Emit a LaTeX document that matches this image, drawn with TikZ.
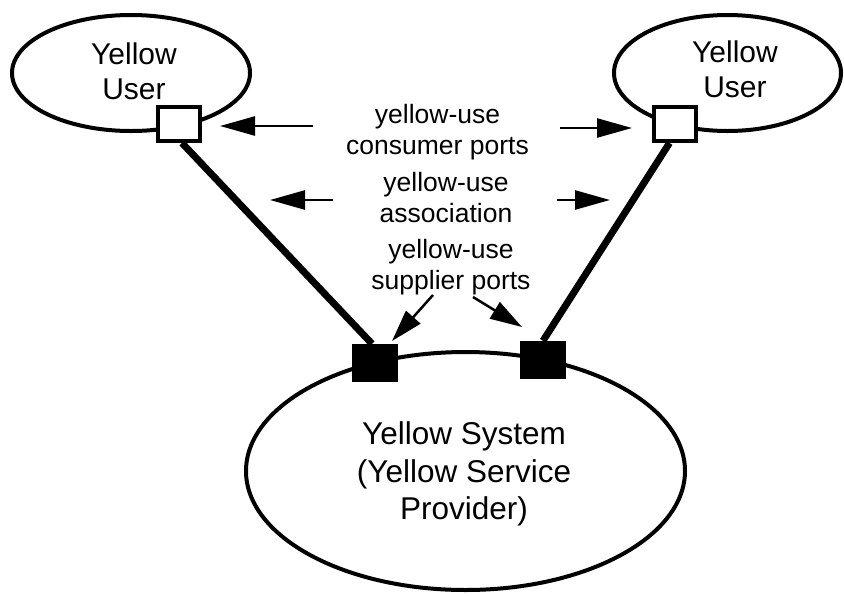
\documentclass[tikz,border=0pt]{standalone}
\usepackage{fontspec}
\setmainfont{Liberation Sans}
\usetikzlibrary{shapes.geometric,arrows.meta,calc}
\begin{document}
\begin{tikzpicture}[x=1pt,y=-1pt,
  oval/.style={ellipse,draw,line width=4pt,inner sep=0pt},
  userlbl/.style={align=center,font=\fontsize{30}{35}\selectfont,inner sep=0pt},
  midlbl/.style={align=center,font=\fontsize{26.5}{31}\selectfont,inner sep=0pt},
  syslbl/.style={align=center,font=\fontsize{31.5}{37.5}\selectfont,inner sep=0pt},
  cport/.style={rectangle,draw,fill=white,line width=4pt,minimum width=42pt,minimum height=34pt,inner sep=0pt},
  sport/.style={rectangle,fill=black,minimum width=46pt,minimum height=38pt,inner sep=0pt},
  assoc/.style={line width=7pt},
  pointer/.style={line width=2.5pt,-{Triangle[length=35pt,width=19pt]}}]
\useasboundingbox (0,0) rectangle (844,595);
% ellipses
\node[oval,minimum width=238pt,minimum height=116pt] (uL) at (131,73) {};
\node[oval,minimum width=227pt,minimum height=116pt] (uR) at (727.5,73) {};
\node[oval,minimum width=439pt,minimum height=238pt] (sys) at (465.5,471) {};
% labels in ellipses
\node[userlbl] (tL) at (134,71.5) {Yellow\\User};
\node[userlbl] (tR) at (735,69.5) {Yellow\\User};
\node[syslbl] (tS) at (464,474.3) {Yellow System\\(Yellow Service\\Provider)};
% connectors
\node[cport] (pL) at (179,124) {};
\node[cport] (pR) at (674.5,124) {};
\node[sport] (sL) at (375,363) {};
\node[sport] (sR) at (543,360) {};
\draw[assoc] ($(pL.south)+(3,0)$) -- ($(sL.north)+(-3,0)$);
\draw[assoc] ($(pR.south)+(-5,0)$) -- (sR.north);
% middle labels
\node[midlbl] (m1) at (437.5,131.7) {yellow-use\\consumer ports};
\node[midlbl] (m2) at (446,197.9) {yellow-use\\association};
\node[midlbl] (m3) at (451,267.2) {yellow-use\\supplier ports};
% arrow end points
\coordinate (a1s) at (313,126); \coordinate (a1e) at (220,126);
\coordinate (a2s) at (560,128); \coordinate (a2e) at (632,128);
\coordinate (a3s) at (333,200); \coordinate (a3e) at (270,200);
\coordinate (a4s) at (557,200); \coordinate (a4e) at (610,200);
\coordinate (a5s) at (433,295); \coordinate (a5e) at (392,341);
\coordinate (a6s) at (473,297); \coordinate (a6e) at (522,327);
\draw[pointer] (a1s) -- (a1e);
\draw[pointer] (a2s) -- (a2e);
\draw[pointer] (a3s) -- (a3e);
\draw[pointer] (a4s) -- (a4e);
\draw[pointer,-{Triangle[length=32pt,width=19pt]}] (a5s) -- (a5e);
\draw[pointer,-{Triangle[length=32pt,width=19pt]}] (a6s) -- (a6e);
\end{tikzpicture}
\end{document}
